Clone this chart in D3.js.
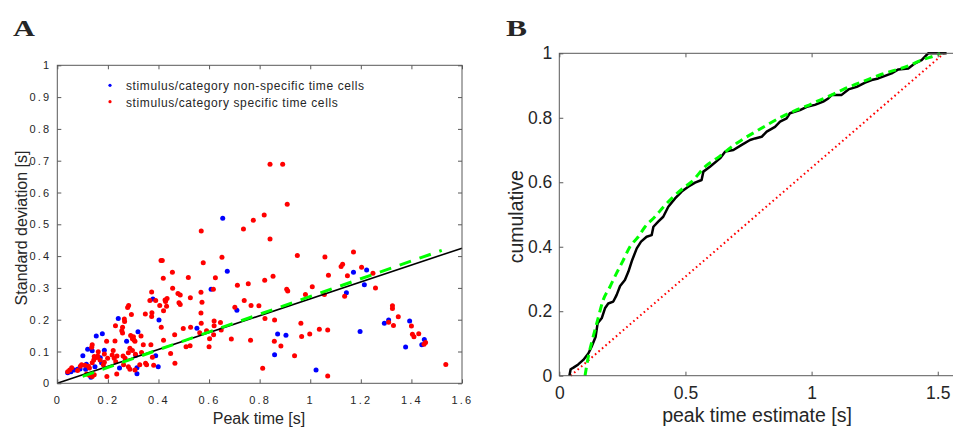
<!DOCTYPE html>
<html>
<head>
<meta charset="utf-8">
<script src="https://cdn.jsdelivr.net/npm/d3@7"></script>
<style>
  body { margin: 0; background: #fff; }
  svg { display: block; }
  text { font-family: "Liberation Sans", Arial, sans-serif; fill: #262626; }
</style>
</head>
<body>
<svg id="fig" width="953" height="427"></svg>
<script>
// ---- Panel A data: peak time vs standard deviation ----
var nonSpecPeak = [0.654, 0.672, 0.608, 0.710, 0.552, 0.871, 0.904, 0.859, 1.023,
  1.171, 1.223, 1.214, 1.143, 1.293, 1.310, 1.393, 1.197, 1.377, 1.441, 1.451,
  0.378, 0.402, 0.241, 0.178, 0.154, 0.319, 0.274, 0.120, 0.186, 0.101, 0.138,
  0.310, 0.170, 0.389, 0.115, 0.149, 0.175, 0.133, 0.246, 0.315, 0.315, 0.399,
  0.041, 0.054, 0.067, 0.080, 0.090, 0.112];
var nonSpecSd = [0.519, 0.352, 0.296, 0.230, 0.173, 0.155, 0.151, 0.090, 0.042,
  0.349, 0.356, 0.310, 0.285, 0.189, 0.199, 0.196, 0.163, 0.114, 0.121, 0.138,
  0.265, 0.199, 0.204, 0.156, 0.149, 0.162, 0.132, 0.107, 0.104, 0.087, 0.102,
  0.088, 0.080, 0.087, 0.060, 0.052, 0.065, 0.019, 0.048, 0.049, 0.030, 0.052,
  0.033, 0.036, 0.042, 0.044, 0.045, 0.044];

var specPeak = [0.410, 0.415, 0.455, 0.419, 0.456, 0.373, 0.477, 0.486, 0.481, 0.486,
  0.366, 0.389, 0.426, 0.434, 0.428, 0.282, 0.278, 0.405, 0.432, 0.420,
  0.374, 0.373, 0.265, 0.266, 0.348, 0.293, 0.230, 0.258, 0.255, 0.258,
  0.290, 0.301, 0.303, 0.331, 0.195, 0.228, 0.297, 0.307, 0.138, 0.136,
  0.340, 0.370, 0.420, 0.333, 0.287, 0.297, 0.281, 0.162, 0.160, 0.186,
  0.221, 0.217, 0.236, 0.225, 0.260, 0.268, 0.146, 0.156, 0.144, 0.169,
  0.199, 0.138, 0.186, 0.182, 0.231, 0.262, 0.281, 0.287, 0.307, 0.326,
  0.349, 0.091, 0.096, 0.109, 0.123, 0.127, 0.057, 0.049, 0.041, 0.080,
  0.116, 0.127, 0.146, 0.138, 0.196, 0.235, 0.448, 0.465, 0.376, 0.353,
  0.381, 0.464, 0.411, 0.309,
  0.841, 0.891, 0.909, 0.818, 0.775, 0.736, 0.569, 0.841, 0.949, 0.651,
  0.577, 0.518, 0.625, 0.853, 0.820, 0.755, 0.712, 1.008, 0.907, 0.911,
  0.617, 0.568, 0.526, 0.572, 0.981, 0.739, 0.766, 0.797, 0.702, 0.568,
  0.821, 0.859, 0.498, 0.527, 0.569, 0.620, 0.645, 0.620, 0.648, 0.963,
  0.563, 0.590, 0.602, 0.618, 0.525, 0.509, 0.600, 0.688, 0.764, 0.858,
  0.884, 0.938, 0.966, 0.998, 0.812,
  1.058, 1.171, 1.122, 1.128, 1.072, 1.147, 1.203, 1.248, 1.258, 1.056,
  1.136, 1.325, 1.325, 1.348, 1.310, 1.329, 1.400, 1.404, 1.410, 1.429,
  1.450, 1.456, 1.036, 1.069, 1.069, 1.536];
var specSd = [0.386, 0.386, 0.349, 0.330, 0.299, 0.287, 0.282, 0.278, 0.253, 0.248,
  0.260, 0.260, 0.262, 0.267, 0.257, 0.245, 0.238, 0.245, 0.242, 0.228,
  0.222, 0.210, 0.202, 0.194, 0.218, 0.216, 0.181, 0.176, 0.165, 0.158,
  0.150, 0.146, 0.136, 0.149, 0.132, 0.133, 0.140, 0.132, 0.121, 0.113,
  0.121, 0.121, 0.135, 0.097, 0.110, 0.103, 0.096, 0.099, 0.086, 0.092,
  0.103, 0.089, 0.086, 0.079, 0.086, 0.079, 0.084, 0.081, 0.073, 0.073,
  0.079, 0.065, 0.066, 0.058, 0.068, 0.058, 0.052, 0.044, 0.042, 0.058,
  0.063, 0.054, 0.058, 0.057, 0.054, 0.048, 0.049, 0.042, 0.036, 0.040,
  0.029, 0.025, 0.027, 0.021, 0.021, 0.029, 0.094, 0.063, 0.082, 0.058,
  0.057, 0.153, 0.176, 0.091,
  0.689, 0.689, 0.563, 0.529, 0.513, 0.485, 0.479, 0.454, 0.402, 0.396,
  0.379, 0.333, 0.332, 0.337, 0.324, 0.313, 0.308, 0.304, 0.296, 0.290,
  0.296, 0.286, 0.269, 0.255, 0.279, 0.260, 0.245, 0.244, 0.239, 0.221,
  0.204, 0.199, 0.172, 0.176, 0.189, 0.196, 0.191, 0.181, 0.168, 0.189,
  0.159, 0.165, 0.140, 0.153, 0.118, 0.115, 0.115, 0.139, 0.135, 0.132,
  0.117, 0.087, 0.147, 0.155, 0.047,
  0.397, 0.413, 0.367, 0.374, 0.340, 0.338, 0.365, 0.346, 0.300, 0.279,
  0.274, 0.244, 0.235, 0.209, 0.192, 0.182, 0.180, 0.154, 0.146, 0.156,
  0.123, 0.128, 0.170, 0.168, 0.023, 0.059];

// lines in panel A (end points)
var unityPeak = [0, 1.6];
var unitySd = [0, 0.425];
var fitPeak = [0.1, 1.52];
var fitSd = [0.022, 0.418];

var tickA_x = [0, 0.2, 0.4, 0.6, 0.8, 1, 1.2, 1.4, 1.6];
var tickA_y = [0, 0.1, 0.2, 0.3, 0.4, 0.5, 0.6, 0.7, 0.8, 0.9, 1];

var legendLabels = ["stimulus/category non-specific time cells",
                    "stimulus/category specific time cells"];

// ---- Panel B data: cumulative distribution of peak times ----
var cdfPeak = [0.040, 0.045, 0.056, 0.075, 0.095, 0.115, 0.128, 0.144, 0.152, 0.168,
  0.181, 0.194, 0.214, 0.227, 0.241, 0.260, 0.274, 0.289, 0.307, 0.324,
  0.346, 0.366, 0.373, 0.392, 0.412, 0.432, 0.459, 0.485, 0.511, 0.538,
  0.564, 0.571, 0.597, 0.637, 0.657, 0.690, 0.723, 0.756, 0.776, 0.802,
  0.822, 0.855, 0.875, 0.901, 0.914, 0.954, 0.981, 1.013, 1.046, 1.066,
  1.080, 1.119, 1.146, 1.179, 1.212, 1.238, 1.264, 1.291, 1.317, 1.344,
  1.383, 1.410, 1.436, 1.456, 1.462, 1.535];
var cdfCum = [0.000, 0.020, 0.025, 0.035, 0.049, 0.069, 0.090, 0.121, 0.163, 0.178,
  0.209, 0.224, 0.230, 0.250, 0.278, 0.297, 0.323, 0.359, 0.395, 0.416,
  0.431, 0.436, 0.462, 0.478, 0.493, 0.524, 0.550, 0.571, 0.586, 0.599,
  0.607, 0.633, 0.648, 0.674, 0.695, 0.700, 0.716, 0.731, 0.736, 0.741,
  0.757, 0.772, 0.788, 0.798, 0.814, 0.824, 0.834, 0.840, 0.850, 0.860,
  0.871, 0.871, 0.888, 0.896, 0.909, 0.917, 0.922, 0.930, 0.938, 0.950,
  0.953, 0.969, 0.979, 0.995, 1.000, 1.000];

var fitCdfPeak = [0.102, 0.115, 0.131, 0.152, 0.174, 0.201, 0.227, 0.254, 0.280, 0.313,
  0.340, 0.379, 0.419, 0.459, 0.498, 0.525, 0.577, 0.624, 0.703, 0.789,
  0.835, 0.881, 0.934, 0.981, 1.033, 1.080, 1.126, 1.225, 1.278, 1.383,
  1.443, 1.496, 1.509];
var fitCdfCum = [0.000, 0.059, 0.111, 0.173, 0.235, 0.276, 0.318, 0.359, 0.400, 0.431,
  0.462, 0.493, 0.529, 0.560, 0.586, 0.602, 0.648, 0.674, 0.721, 0.762,
  0.783, 0.803, 0.822, 0.837, 0.855, 0.871, 0.888, 0.919, 0.935, 0.961,
  0.981, 0.995, 1.000];

var uniformPeak = [0.045, 1.525];
var uniformCum = [0, 1];

var tickB_x = [0, 0.5, 1, 1.5];
var tickB_y = [0, 0.2, 0.4, 0.6, 0.8, 1];

var svg = d3.select("#fig");
var fmt = d3.format("~g");
var axisColor = "#595959";

// draws a MATLAB style box with inward ticks on every side
function drawBox(g, x, y, xt, yt, tickLen, labelSize, spacing, padX, padY) {
  var x0 = x.range()[0], x1 = x.range()[1], y0 = y.range()[0], y1 = y.range()[1];

  var bottom = g.append("g").attr("transform", "translate(0," + y0 + ")")
    .call(d3.axisBottom(x).tickValues(xt).tickFormat(fmt).tickSizeInner(-tickLen).tickSizeOuter(0).tickPadding(padX));
  var left = g.append("g").attr("transform", "translate(" + x0 + ",0)")
    .call(d3.axisLeft(y).tickValues(yt).tickFormat(fmt).tickSizeInner(-tickLen).tickSizeOuter(0).tickPadding(padY));
  var top = g.append("g").attr("transform", "translate(0," + y1 + ")")
    .call(d3.axisTop(x).tickValues(xt).tickFormat("").tickSizeInner(-tickLen).tickSizeOuter(0));
  var right = g.append("g").attr("transform", "translate(" + x1 + ",0)")
    .call(d3.axisRight(y).tickValues(yt).tickFormat("").tickSizeInner(-tickLen).tickSizeOuter(0));

  [bottom, left, top, right].forEach(function (a) {
    a.select(".domain").remove();
    a.selectAll(".tick line").attr("stroke", axisColor);
    a.selectAll("text")
      .attr("fill", "#262626")
      .style("font-family", '"Liberation Sans", Arial, sans-serif')
      .style("font-size", labelSize + "px")
      .attr("letter-spacing", spacing);
  });

  g.append("rect")
    .attr("x", x0).attr("y", y1)
    .attr("width", x1 - x0).attr("height", y0 - y1)
    .attr("fill", "none").attr("stroke", axisColor).attr("stroke-width", 1);
}

// ================= Panel A =================
var gA = svg.append("g");
var xA = d3.scaleLinear().domain([0, 1.6]).range([57.3, 462]);
var yA = d3.scaleLinear().domain([0, 1]).range([383.3, 65.3]);

gA.selectAll("circle.ns")
  .data(nonSpecPeak.map(function (p, i) { return [p, nonSpecSd[i]]; }))
  .enter().append("circle")
  .attr("class", "ns")
  .attr("cx", function (d) { return xA(d[0]); })
  .attr("cy", function (d) { return yA(d[1]); })
  .attr("r", 2.5)
  .attr("fill", "#0000ff");

gA.selectAll("circle.sp")
  .data(specPeak.map(function (p, i) { return [p, specSd[i]]; }))
  .enter().append("circle")
  .attr("class", "sp")
  .attr("cx", function (d) { return xA(d[0]); })
  .attr("cy", function (d) { return yA(d[1]); })
  .attr("r", 2.5)
  .attr("fill", "#ff0000");

var lineA = d3.line().x(function (d) { return xA(d[0]); }).y(function (d) { return yA(d[1]); });

gA.append("path")
  .datum(unityPeak.map(function (p, i) { return [p, unitySd[i]]; }))
  .attr("d", lineA)
  .attr("fill", "none").attr("stroke", "#000").attr("stroke-width", 1.6);

gA.append("path")
  .datum(fitPeak.map(function (p, i) { return [p, fitSd[i]]; }))
  .attr("d", lineA)
  .attr("fill", "none").attr("stroke", "#00ff00").attr("stroke-width", 3)
  .attr("stroke-dasharray", "12,9");

drawBox(gA, xA, yA, tickA_x, tickA_y, 4, 11, "2.2px", 13, 6);

// legend
var legColors = ["#0000ff", "#ff0000"];
legendLabels.forEach(function (t, i) {
  gA.append("circle").attr("cx", 110).attr("cy", 85.3 + i * 16.4).attr("r", 1.6).attr("fill", legColors[i]);
  gA.append("text").attr("x", 126).attr("y", 90.3 + i * 16.2)
    .attr("font-size", 12).attr("letter-spacing", "0.6px").text(t);
});

gA.append("text").attr("x", 259).attr("y", 423.5)
  .attr("text-anchor", "middle").attr("font-size", 16).text("Peak time [s]");
gA.append("text").attr("transform", "translate(27,228) rotate(-90)")
  .attr("text-anchor", "middle").attr("font-size", 16).text("Standard deviation [s]");

gA.append("text").attr("x", 13).attr("y", 36)
  .attr("textLength", 22).attr("lengthAdjust", "spacingAndGlyphs")
  .style("font-family", '"Liberation Serif", "Times New Roman", serif')
  .attr("font-weight", "bold").attr("font-size", 23).attr("fill", "#000").text("A");

// ================= Panel B =================
var gB = svg.append("g");
var xB = d3.scaleLinear().domain([0, 1.6]).range([559.3, 559.3 + 1.6 * 252.3]);
var yB = d3.scaleLinear().domain([0, 1]).range([375.7, 53.3]);

var lineB = d3.line().x(function (d) { return xB(d[0]); }).y(function (d) { return yB(d[1]); });

gB.append("path")
  .datum(uniformPeak.map(function (p, i) { return [p, uniformCum[i]]; }))
  .attr("d", lineB)
  .attr("fill", "none").attr("stroke", "#ff0000").attr("stroke-width", 2)
  .attr("stroke-dasharray", "1.6,3");

gB.append("path")
  .datum(cdfPeak.map(function (p, i) { return [p, cdfCum[i]]; }))
  .attr("d", lineB)
  .attr("fill", "none").attr("stroke", "#000").attr("stroke-width", 2.5)
  .attr("stroke-linejoin", "round");

gB.append("path")
  .datum(fitCdfPeak.map(function (p, i) { return [p, fitCdfCum[i]]; }))
  .attr("d", d3.line().curve(d3.curveMonotoneX).x(function (d) { return xB(d[0]); }).y(function (d) { return yB(d[1]); }))
  .attr("fill", "none").attr("stroke", "#00ff00").attr("stroke-width", 3)
  .attr("stroke-dasharray", "8,5");

drawBox(gB, xB, yB, tickB_x, tickB_y, 4, 17.5, "0px", 11, 7);

gB.append("text").attr("x", 757).attr("y", 421.5)
  .attr("text-anchor", "middle").attr("font-size", 19.5).text("peak time estimate [s]");
gB.append("text").attr("transform", "translate(523,216.7) rotate(-90)")
  .attr("text-anchor", "middle").attr("font-size", 19.5).text("cumulative");

gB.append("text").attr("x", 506).attr("y", 36)
  .attr("textLength", 21).attr("lengthAdjust", "spacingAndGlyphs")
  .style("font-family", '"Liberation Serif", "Times New Roman", serif')
  .attr("font-weight", "bold").attr("font-size", 23).attr("fill", "#000").text("B");
</script>
</body>
</html>
